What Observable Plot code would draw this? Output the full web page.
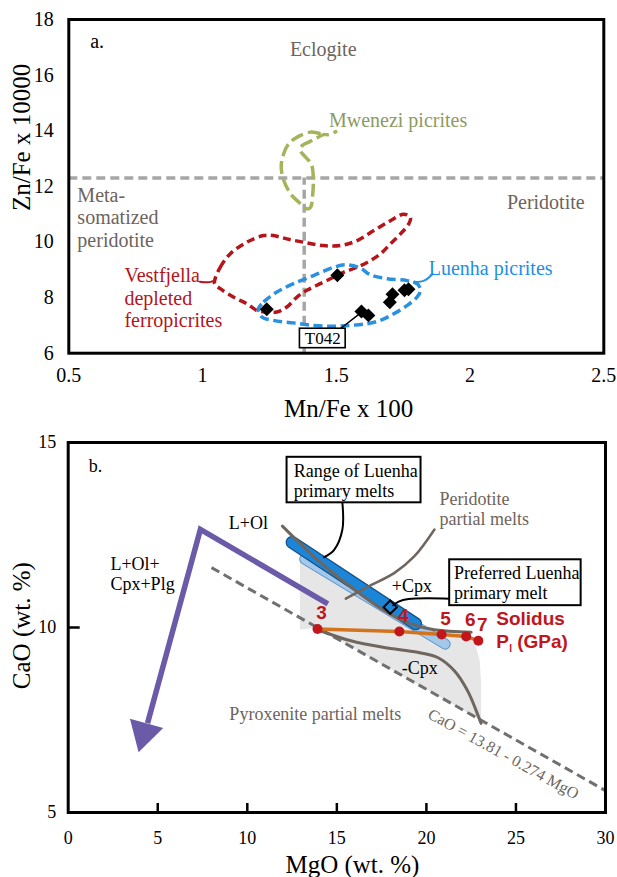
<!DOCTYPE html>
<html>
<head>
<meta charset="utf-8">
<script src="https://cdn.jsdelivr.net/npm/d3@7"></script>
<script src="https://cdn.jsdelivr.net/npm/@observablehq/plot@0.6"></script>
<style>
  body { margin: 0; background: #fff; }
  #chart svg { display: block; }
</style>
</head>
<body>
<div id="chart"></div>
<script>
// ---------------- Panel a data ----------------
const xTicksA = [0.5, 1, 1.5, 2, 2.5];
const yTicksA = [6, 8, 10, 12, 14, 16, 18];
const sampleMn = [1.24, 1.504, 1.594, 1.62, 1.70, 1.71, 1.755, 1.77];
const sampleZn = [7.58, 8.8, 7.5, 7.36, 7.83, 8.12, 8.26, 8.3];
const boundaryZn = 12.3;   // peridotite / eclogite boundary
const boundaryMn = 1.38;   // metasomatized peridotite boundary
const vestMn = [1.047,1.066,1.103,1.165,1.228,1.265,1.315,1.378,1.452,1.515,1.578,1.640,1.702,1.752,1.777,1.771,1.740,1.702,1.665,1.627,1.578,1.527,1.490,1.440,1.390,1.353,1.315,1.278,1.240,1.203,1.165,1.115,1.066,1.045];
const vestZn = [8.68,9.09,9.57,9.99,10.23,10.23,10.11,9.99,9.87,9.87,10.05,10.41,10.76,11.0,10.88,10.65,10.29,9.93,9.57,9.33,9.09,8.91,8.73,8.50,8.26,8.02,7.66,7.48,7.48,7.54,7.78,8.02,8.32,8.50];
const vestTailMn = [0.99, 1.02, 1.035, 1.047];
const vestTailZn = [8.57, 8.55, 8.58, 8.62];
const luenMn = [1.209,1.228,1.278,1.340,1.415,1.490,1.540,1.590,1.627,1.690,1.765,1.802,1.815,1.802,1.765,1.715,1.665,1.615,1.552,1.490,1.415,1.340,1.265,1.222];
const luenZn = [7.60,7.84,8.20,8.50,8.79,9.09,9.18,9.06,8.82,8.68,8.61,8.50,8.26,8.02,7.72,7.42,7.18,7.06,7.00,6.97,7.00,7.09,7.18,7.30];
const luenTailMn = [1.79, 1.83, 1.86];
const luenTailZn = [8.55, 8.62, 8.85];
const mwMn = [1.441,1.404,1.354,1.322,1.301,1.294,1.304,1.329,1.360,1.391,1.404,1.412,1.414,1.410,1.397,1.379,1.366,1.373,1.397,1.429,1.453,1.472,1.503];
const mwZn = [13.89,13.95,13.77,13.53,13.11,12.69,12.21,11.73,11.43,11.19,11.25,11.73,12.21,12.69,12.93,13.11,13.29,13.47,13.59,13.75,13.86,13.86,13.99];
const t042Box = {x1: 1.364, x2: 1.535, y1: 6.18, y2: 6.88};
const t042LeaderMn = [1.515, 1.59];
const t042LeaderZn = [6.88, 7.44];
const labelsA = [
  {text: "a.", x: 0.58, y: 17.25, color: "#000", anchor: "start"},
  {text: "Eclogite", x: 1.451, y: 16.93, color: "#6e645c", anchor: "middle"},
  {text: "Mwenezi picrites", x: 1.731, y: 14.39, color: "#8d9a62", anchor: "middle"},
  {text: "Meta-\nsomatized\nperidotite", x: 0.532, y: 10.89, color: "#6e645c", anchor: "start"},
  {text: "Peridotite", x: 2.283, y: 11.45, color: "#6e645c", anchor: "middle"},
  {text: "Vestfjella\ndepleted\nferropicrites", x: 0.708, y: 8.0, color: "#b3151b", anchor: "start"},
  {text: "Luenha picrites", x: 2.077, y: 9.06, color: "#1d8fe3", anchor: "middle"}
];

// ---------------- Panel b data ----------------
const xTicksB = [0, 5, 10, 15, 20, 25, 30];
const yTicksB = [5, 10, 15];
const regionMgO = [12.94, 13.92, 15.78, 17.64, 19.14, 20.45, 21.5, 22.3, 22.75, 22.98, 23.05, 23.05, 13.9, 12.94];
const regionCaO = [12.0, 11.78, 11.08, 10.44, 10.08, 9.92, 9.88, 9.8, 9.5, 9.1, 8.5, 7.49, 10.0, 9.94];
const trendMgO = [8.0, 30];           // CaO = 13.81 - 0.274 MgO
const trendCaO = [11.618, 5.59];
const arrowMgO = [14.5, 7.38, 4.43];
const arrowCaO = [10.64, 12.65, 7.41];
const arrowTip = [3.93, 6.63];
const lightBandMgO = [13.2, 21.05];
const lightBandCaO = [11.85, 9.55];
const darkBandMgO = [12.5, 19.4];
const darkBandCaO = [12.3, 10.1];
const olCurveMgO = [11.96, 13.92, 15.78, 17.64, 19.14, 20.45, 22.5];
const olCurveCaO = [12.74, 11.83, 11.10, 10.46, 10.10, 9.94, 9.87];
const cpxCurveMgO = [13.92, 15.78, 17.64, 19.51, 20.63, 21.56, 22.31, 22.87, 23.05];
const cpxCurveCaO = [9.94, 9.64, 9.46, 9.33, 9.19, 8.83, 8.28, 7.64, 7.41];
const peridLeaderMgO = [20.45, 19.32, 18.2, 16.71, 15.5];
const peridLeaderCaO = [12.65, 11.92, 11.47, 11.10, 10.78];
const rangeLeaderMgO = [15.31, 15.31, 14.85, 14.29];
const rangeLeaderCaO = [13.37, 12.65, 12.1, 11.9];
const prefLeaderMgO = [21.3, 19.0, 18.45, 18.15];
const prefLeaderCaO = [10.78, 10.77, 10.7, 10.6];
const preferredMelt = [17.98, 10.55];
const solidusMgO = [13.92, 18.49, 20.85, 22.22, 22.9];
const solidusCaO = [9.96, 9.89, 9.81, 9.76, 9.64];
const solidusP = [3, 4, 5, 6, 7];
const boxesB = [
  {x1: 12.22, x2: 19.70, y1: 13.37, y2: 14.60},
  {x1: 21.30, x2: 28.64, y1: 10.59, y2: 11.83}
];
const labelsB = [
  {text: "b.", x: 1.15, y: 14.38, color: "#000", anchor: "start"},
  {text: "Range of Luenha\nprimary melts", x: 12.59, y: 13.97, color: "#000", anchor: "start"},
  {text: "Preferred Luenha\nprimary melt", x: 21.54, y: 11.22, color: "#000", anchor: "start"},
  {text: "Peridotite\npartial melts", x: 20.73, y: 13.21, color: "#6e645c", anchor: "start"},
  {text: "L+Ol", x: 10.06, y: 12.85, color: "#000", anchor: "middle"},
  {text: "L+Ol+\nCpx+Plg", x: 2.36, y: 11.45, color: "#000", anchor: "start"},
  {text: "+Cpx", x: 19.19, y: 11.14, color: "#000", anchor: "middle"},
  {text: "-Cpx", x: 19.63, y: 8.93, color: "#000", anchor: "middle"},
  {text: "Pyroxenite partial melts", x: 13.8, y: 7.67, color: "#6e645c", anchor: "middle"}
];
const trendLabel = {text: "CaO = 13.81 - 0.274 MgO", x: 24.3, y: 6.58};
const solidusLabel = {x: 23.9, y1: 10.24, y2: 9.6};

// ---------------- helpers ----------------
const zip = (xs, ys) => xs.map((x, i) => ({x, y: ys[i]}));
const serif = "Liberation Serif";
const sans = "Liberation Sans";
const W = 617;
const labelMarks = (labels, size) => ["start", "middle", "end"].map(a =>
  Plot.text(labels.filter(d => d.anchor === a), {x: "x", y: "y", text: "text", fill: "color",
    textAnchor: a, fontSize: size, lineHeight: 1.12, fontFamily: serif}));

// ---------------- Panel a ----------------
const mA = {top: 19, bottom: 67.3, left: 68.3, right: 13.7};
const plotA = Plot.plot({
  width: W, height: 420,
  marginTop: mA.top, marginBottom: mA.bottom, marginLeft: mA.left, marginRight: mA.right,
  x: {domain: [0.5, 2.5]},
  y: {domain: [6, 18]},
  style: {background: "#fff", color: "#000", overflow: "visible"},
  marks: [
    Plot.ruleY([boundaryZn], {y: d => d, stroke: "#a6a6a6", strokeWidth: 3.5, strokeDasharray: "9,5"}),
    Plot.ruleX([boundaryMn], {x: d => d, y1: 6, y2: boundaryZn, stroke: "#a6a6a6", strokeWidth: 3.5, strokeDasharray: "9,5"}),
    Plot.line(zip(mwMn, mwZn), {x: "x", y: "y", curve: "catmull-rom", stroke: "#a3b55a", strokeWidth: 3.5, strokeDasharray: "13,5", strokeLinecap: "butt"}),
    Plot.line(zip(vestMn, vestZn), {x: "x", y: "y", curve: "catmull-rom-closed", stroke: "#b3151b", strokeWidth: 3.5, strokeDasharray: "8,4.5", strokeLinecap: "butt"}),
    Plot.line(zip(vestTailMn, vestTailZn), {x: "x", y: "y", curve: "catmull-rom", stroke: "#b3151b", strokeWidth: 2}),
    Plot.line(zip(luenMn, luenZn), {x: "x", y: "y", curve: "catmull-rom-closed", stroke: "#2a90e0", strokeWidth: 3.5, strokeDasharray: "9,4.5", strokeLinecap: "butt"}),
    Plot.line(zip(luenTailMn, luenTailZn), {x: "x", y: "y", curve: "catmull-rom", stroke: "#2a90e0", strokeWidth: 2}),
    Plot.line(zip(t042LeaderMn, t042LeaderZn), {x: "x", y: "y", stroke: "#000", strokeWidth: 1.5}),
    Plot.dot(zip(sampleMn, sampleZn), {x: "x", y: "y", symbol: "diamond2", r: 6.3, fill: "#000", stroke: "none"}),
    Plot.rect([t042Box], {x1: "x1", x2: "x2", y1: "y1", y2: "y2", fill: "#fff", stroke: "#000", strokeWidth: 1.6}),
    Plot.text([t042Box], {x: d => (d.x1 + d.x2) / 2, y: d => (d.y1 + d.y2) / 2, text: () => "T042", fontSize: 17, fill: "#000", fontFamily: serif}),
    ...labelMarks(labelsA, 20),
    Plot.frame({stroke: "#000", strokeWidth: 3}),
    Plot.axisX({ticks: xTicksA, tickSize: 0, tickPadding: 15, fontSize: 20, fontFamily: serif, tickFormat: d => String(d)}),
    Plot.axisY({ticks: yTicksA, tickSize: 0, tickPadding: 15, fontSize: 20, fontFamily: serif, tickFormat: d => String(d)}),
    Plot.text(["Mn/Fe x 100"], {x: 1.546, frameAnchor: "bottom", dy: 56, text: d => d, fontSize: 25, fontFamily: serif, textAnchor: "middle", lineAnchor: "middle"}),
    Plot.text(["Zn/Fe x 10000"], {y: 13.76, frameAnchor: "left", dx: -46.7, rotate: -90, text: d => d, fontSize: 25, fontFamily: serif, textAnchor: "middle", lineAnchor: "middle"})
  ]
});

// ---------------- Panel b ----------------
const mB = {top: 22, bottom: 65, left: 67.7, right: 12};
const kx = (W - mB.left - mB.right) / 30;
const ky = (457 - mB.top - mB.bottom) / 10;
// arrowhead orientation from the last arrow segment (vertex -> tip)
const ux0 = (arrowTip[0] - arrowMgO[1]) * kx, uy0 = -(arrowTip[1] - arrowCaO[1]) * ky;
const ul = Math.hypot(ux0, uy0), ux = ux0 / ul, uy = uy0 / ul;
const headRot = Math.atan2(ux, -uy) * 180 / Math.PI;
const headR = 12.8;
const headCenterOff = 2 * Math.sqrt(Math.PI * headR * headR / (3 * Math.sqrt(3)));

const plotB = Plot.plot({
  width: W, height: 457,
  marginTop: mB.top, marginBottom: mB.bottom, marginLeft: mB.left, marginRight: mB.right,
  x: {domain: [0, 30]},
  y: {domain: [5, 15]},
  style: {background: "#fff", color: "#000", overflow: "visible"},
  marks: [
    Plot.line(zip(regionMgO, regionCaO), {x: "x", y: "y", curve: "linear", fill: "#e6e6e6", stroke: "none"}),
    Plot.line(zip(trendMgO, trendCaO), {x: "x", y: "y", stroke: "#707070", strokeWidth: 3, strokeDasharray: "9,5", strokeLinecap: "butt"}),
    Plot.line(zip(arrowMgO, arrowCaO), {x: "x", y: "y", stroke: "#6a5aa8", strokeWidth: 5.5, strokeLinejoin: "miter", strokeLinecap: "butt", strokeMiterlimit: 10}),
    Plot.dot([arrowTip], {x: d => d[0], y: d => d[1], symbol: "triangle", r: headR, rotate: headRot,
      dx: -headCenterOff * ux, dy: -headCenterOff * uy, fill: "#6a5aa8", stroke: "none"}),
    Plot.line(zip(lightBandMgO, lightBandCaO), {x: "x", y: "y", stroke: "#5d93c9", strokeWidth: 11}),
    Plot.line(zip(lightBandMgO, lightBandCaO), {x: "x", y: "y", stroke: "#a3c8ea", strokeWidth: 9}),
    Plot.line(zip(darkBandMgO, darkBandCaO), {x: "x", y: "y", stroke: "#14508a", strokeWidth: 13}),
    Plot.line(zip(darkBandMgO, darkBandCaO), {x: "x", y: "y", stroke: "#1b86d8", strokeWidth: 10.5}),
    Plot.line(zip(olCurveMgO, olCurveCaO), {x: "x", y: "y", curve: "catmull-rom", stroke: "#6e665f", strokeWidth: 3}),
    Plot.line(zip(cpxCurveMgO, cpxCurveCaO), {x: "x", y: "y", curve: "catmull-rom", stroke: "#6e665f", strokeWidth: 3}),
    Plot.line(zip(peridLeaderMgO, peridLeaderCaO), {x: "x", y: "y", curve: "catmull-rom", stroke: "#6e665f", strokeWidth: 2.5}),
    Plot.line(zip(solidusMgO, solidusCaO), {x: "x", y: "y", stroke: "#d4731e", strokeWidth: 3.5}),
    Plot.dot(zip(solidusMgO, solidusCaO), {x: "x", y: "y", r: 5, fill: "#c0161c", stroke: "none"}),
    Plot.text(solidusP.map((p, i) => ({p, x: solidusMgO[i], y: solidusCaO[i]})), {x: "x", y: "y", text: d => String(d.p),
      dx: 4, dy: -16, fontFamily: sans, fontWeight: "bold", fontSize: 19, fill: "#c0161c"}),
    Plot.line(zip(rangeLeaderMgO, rangeLeaderCaO), {x: "x", y: "y", curve: "catmull-rom", stroke: "#000", strokeWidth: 2}),
    Plot.line(zip(prefLeaderMgO, prefLeaderCaO), {x: "x", y: "y", curve: "catmull-rom", stroke: "#000", strokeWidth: 2}),
    Plot.dot([preferredMelt], {x: d => d[0], y: d => d[1], symbol: "diamond2", r: 6, fill: "none", stroke: "#000", strokeWidth: 2}),
    Plot.rect(boxesB, {x1: "x1", x2: "x2", y1: "y1", y2: "y2", fill: "#fff", stroke: "#000", strokeWidth: 2}),
    ...labelMarks(labelsB, 18),
    Plot.text([trendLabel], {x: "x", y: "y", text: "text", rotate: 29, fill: "#6e645c", fontSize: 16, fontFamily: serif}),
    Plot.text([solidusLabel], {x: "x", y: "y1", text: () => "Solidus", textAnchor: "start", fontFamily: sans, fontWeight: "bold", fontSize: 19, fill: "#c0161c"}),
    Plot.text([solidusLabel], {x: "x", y: "y2", text: () => "P", textAnchor: "start", fontFamily: sans, fontWeight: "bold", fontSize: 19, fill: "#c0161c"}),
    Plot.text([solidusLabel], {x: "x", y: "y2", text: () => "I", dx: 13, dy: 6, textAnchor: "start", fontFamily: sans, fontWeight: "bold", fontSize: 10, fill: "#c0161c"}),
    Plot.text([solidusLabel], {x: "x", y: "y2", text: () => "(GPa)", dx: 21, textAnchor: "start", fontFamily: sans, fontWeight: "bold", fontSize: 19, fill: "#c0161c"}),
    Plot.frame({stroke: "#000", strokeWidth: 3}),
    Plot.ruleX(xTicksB.slice(1, -1), {x: d => d, y1: 5, y2: 5 + 9 / ky, stroke: "#000", strokeWidth: 2.5}),
    Plot.ruleY(yTicksB.slice(1, -1), {y: d => d, x1: 0, x2: 12 / kx, stroke: "#000", strokeWidth: 2.5}),
    Plot.axisX({ticks: xTicksB, tickSize: 0, tickPadding: 19, fontSize: 18, fontFamily: serif, tickFormat: d => String(d)}),
    Plot.axisY({ticks: yTicksB, tickSize: 0, tickPadding: 12, fontSize: 18, fontFamily: serif, tickFormat: d => String(d)}),
    Plot.text(["MgO (wt. %)"], {x: 15.87, frameAnchor: "bottom", dy: 52, text: d => d, fontSize: 25, fontFamily: serif, textAnchor: "middle", lineAnchor: "middle"}),
    Plot.text(["CaO (wt. %)"], {y: 10.05, frameAnchor: "left", dx: -46, rotate: -90, text: d => d, fontSize: 25, fontFamily: serif, textAnchor: "middle", lineAnchor: "middle"})
  ]
});

const chart = document.getElementById("chart");
chart.appendChild(plotA);
chart.appendChild(plotB);
</script>
</body>
</html>
